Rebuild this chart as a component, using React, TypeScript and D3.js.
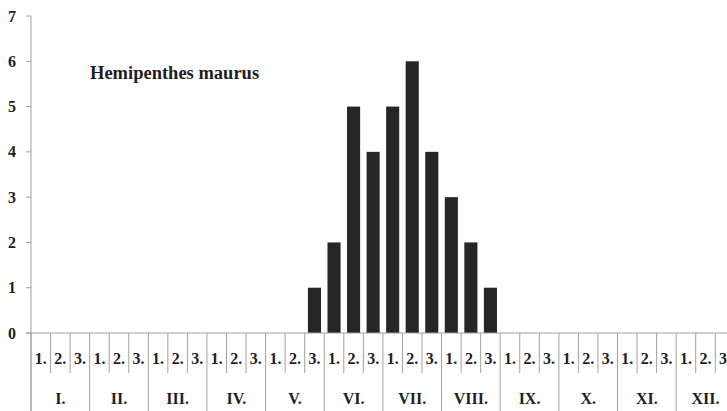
import { useEffect, useRef } from 'react';
import * as d3 from 'd3';

const months = ['I.', 'II.', 'III.', 'IV.', 'V.', 'VI.', 'VII.', 'VIII.', 'IX.', 'X.', 'XI.', 'XII.'];
const decades = ['1.', '2.', '3.'];
// counts per decade (10-day period), Jan..Dec
const counts = [
  0, 0, 0, 0, 0, 0, 0, 0, 0, 0, 0, 0,
  0, 0, 1, 2, 5, 4, 5, 6, 4, 3, 2, 1,
  0, 0, 0, 0, 0, 0, 0, 0, 0, 0, 0, 0,
];
const yTicks = [0, 1, 2, 3, 4, 5, 6, 7];
const title = 'Hemipenthes maurus';

const W = 727;
const H = 411;

export default function App() {
  const svgRef = useRef<SVGSVGElement>(null);

  useEffect(() => {
    if (!svgRef.current) return;
    const svg = d3.select(svgRef.current);
    svg.selectAll('*').remove();

    const left = 31;
    const slotW = 19.55;
    const right = left + slotW * 36;
    const top = 16;
    const base = 333;
    const font = '"Liberation Serif", "Times New Roman", serif';
    const grid = '#a0a0a0';
    const ink = '#1e1e1e';

    const slots = months.flatMap((m) => decades.map((d) => `${m}${d}`));
    const x = d3.scaleBand().domain(slots).range([left, right]).paddingInner(0.33).paddingOuter(0.165);
    const xSlot = d3.scaleBand().domain(slots).range([left, right]);
    const xMonth = d3.scaleBand().domain(months).range([left, right]);
    const y = d3.scaleLinear().domain([0, 7]).range([base, top]);

    const data = slots.map((s, i) => ({ s, v: counts[i] }));

    // bars
    svg
      .append('g')
      .selectAll('rect')
      .data(data.filter((d) => d.v > 0))
      .enter()
      .append('rect')
      .attr('x', (d) => x(d.s)!)
      .attr('width', x.bandwidth())
      .attr('y', (d) => y(d.v))
      .attr('height', (d) => base - y(d.v))
      .attr('fill', '#262626');

    // y axis
    svg
      .append('line')
      .attr('x1', left)
      .attr('x2', left)
      .attr('y1', top)
      .attr('y2', H)
      .attr('stroke', grid);
    const yt = svg.append('g');
    yt.selectAll('line')
      .data(yTicks)
      .enter()
      .append('line')
      .attr('x1', left - 5)
      .attr('x2', left)
      .attr('y1', (d) => y(d))
      .attr('y2', (d) => y(d))
      .attr('stroke', grid);
    yt.selectAll('text')
      .data(yTicks)
      .enter()
      .append('text')
      .attr('x', 12)
      .attr('y', (d) => y(d))
      .attr('dy', '0.35em')
      .attr('text-anchor', 'middle')
      .style('font-family', font)
      .style('font-weight', 'bold')
      .style('font-size', '16px')
      .style('fill', ink)
      .text((d) => d);

    // x axis line
    svg
      .append('line')
      .attr('x1', left - 5)
      .attr('x2', W)
      .attr('y1', base)
      .attr('y2', base)
      .attr('stroke', grid);

    // decade separators, month separators run to the bottom
    svg
      .append('g')
      .selectAll('line')
      .data(slots)
      .enter()
      .append('line')
      .attr('x1', (d) => xSlot(d)!)
      .attr('x2', (d) => xSlot(d)!)
      .attr('y1', base)
      .attr('y2', (d, i) => (i % 3 === 0 ? H : 373))
      .attr('stroke', grid);

    svg
      .append('g')
      .selectAll('text')
      .data(slots)
      .enter()
      .append('text')
      .attr('x', (d) => xSlot(d)! + xSlot.bandwidth() / 2)
      .attr('y', 358)
      .attr('dy', '0.35em')
      .attr('text-anchor', 'middle')
      .style('font-family', font)
      .style('font-weight', 'bold')
      .style('font-size', '16px')
      .style('fill', ink)
      .text((d, i) => decades[i % 3]);

    svg
      .append('g')
      .selectAll('text')
      .data(months)
      .enter()
      .append('text')
      .attr('x', (d) => xMonth(d)! + xMonth.bandwidth() / 2)
      .attr('y', 398)
      .attr('dy', '0.35em')
      .attr('text-anchor', 'middle')
      .style('font-family', font)
      .style('font-weight', 'bold')
      .style('font-size', '16px')
      .style('fill', ink)
      .text((d) => d);

    // title
    svg
      .append('text')
      .attr('x', 90)
      .attr('y', 79)
      .style('font-family', font)
      .style('font-weight', 'bold')
      .style('font-size', '18.5px')
      .style('fill', ink)
      .text(title);
  }, []);

  return (
    <svg
      ref={svgRef}
      width={W}
      height={H}
      style={{ position: 'absolute', left: 0, top: 0, background: '#fff', overflow: 'hidden' }}
    />
  );
}
